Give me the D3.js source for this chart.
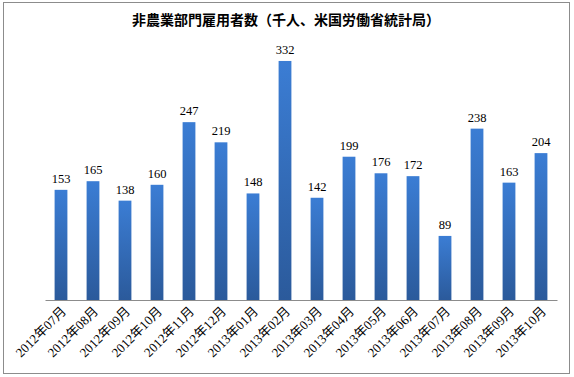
<!DOCTYPE html>
<html><head><meta charset="utf-8">
<script src="https://cdn.jsdelivr.net/npm/d3@7"></script>
<style>body{margin:0;background:#fff}</style>
</head><body>
<svg width="574" height="377"></svg>
<script>
var months = ["2012年07月","2012年08月","2012年09月","2012年10月","2012年11月","2012年12月",
  "2013年01月","2013年02月","2013年03月","2013年04月","2013年05月","2013年06月",
  "2013年07月","2013年08月","2013年09月","2013年10月"];
var values = [153,165,138,160,247,219,148,332,142,199,176,172,89,238,163,204];
var title = "非農業部門雇用者数（千人、米国労働省統計局）";

var svg = d3.select("svg");
svg.append("rect").attr("x", 3.5).attr("y", 2.5).attr("width", 566).attr("height", 371)
  .attr("fill", "#fff").attr("stroke", "#8c8c8c").attr("stroke-width", 1);

var grad = svg.append("defs").append("linearGradient").attr("id", "g")
  .attr("x1", 0).attr("y1", 0).attr("x2", 0).attr("y2", 1);
grad.append("stop").attr("offset", "0%").attr("stop-color", "#3b7dd4");
grad.append("stop").attr("offset", "100%").attr("stop-color", "#2b5a9b");

var x = d3.scaleBand().domain(months).range([45, 557]).paddingInner(0.6).paddingOuter(0.3);
var y = d3.scaleLinear().domain([0, 350]).range([300, 48]);

svg.append("text").attr("x", 286).attr("y", 25).attr("text-anchor", "middle")
  .attr("font-family", "Noto Sans CJK JP").attr("font-weight", "bold").attr("font-size", 14)
  .text(title);

svg.selectAll(".bar").data(values).enter().append("rect")
  .attr("x", function(d, i) { return x(months[i]); })
  .attr("y", function(d) { return y(d); })
  .attr("width", x.bandwidth())
  .attr("height", function(d) { return y(0) - y(d); })
  .attr("fill", "url(#g)");

svg.selectAll(".val").data(values).enter().append("text")
  .attr("x", function(d, i) { return x(months[i]) + x.bandwidth() / 2; })
  .attr("y", function(d) { return y(d) - 7; })
  .attr("text-anchor", "middle")
  .attr("font-family", "Liberation Serif").attr("font-size", 12.5)
  .text(function(d) { return d; });

var ax = svg.append("g").attr("transform", "translate(0,300)")
  .call(d3.axisBottom(x).tickSize(0).tickPadding(0));
ax.select(".domain").attr("stroke", "#8c8c8c");
ax.selectAll("text")
  .attr("font-family", "Liberation Serif, Noto Sans CJK JP").attr("font-size", 13).attr("fill", "#000")
  .attr("text-anchor", "end").attr("dy", 0).attr("y", 0)
  .attr("transform", function() { return "translate(" + 6 + ",12) rotate(-45)"; });
</script>
</body></html>
